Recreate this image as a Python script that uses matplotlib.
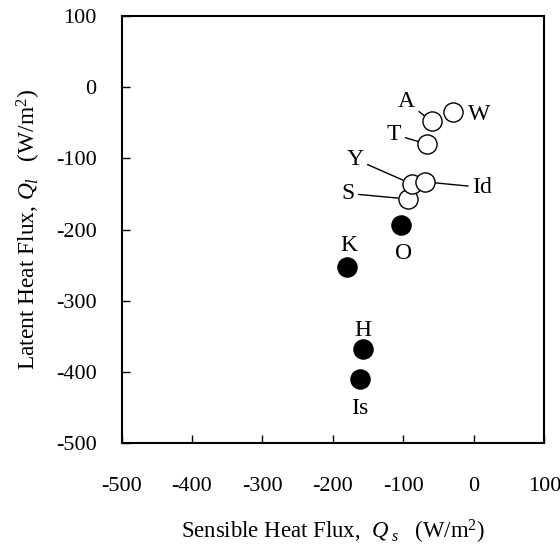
import matplotlib
matplotlib.use("Agg")
import matplotlib.pyplot as plt

plt.rcParams['font.family'] = ['Liberation Serif', 'DejaVu Serif']
plt.rcParams['mathtext.fontset'] = 'custom'
plt.rcParams['mathtext.rm'] = 'Liberation Serif'
plt.rcParams['mathtext.it'] = 'Liberation Serif:italic'
plt.rcParams['axes.unicode_minus'] = False

# site data (W/m2)
names = ['W', 'A', 'T', 'S', 'Y', 'Id', 'O', 'K', 'H', 'Is']
qs = [-30, -60, -66, -94, -88, -69, -103, -180, -157, -162]
ql = [-35, -48, -80, -157, -136, -133, -194, -253, -368, -410]
filled = [False, False, False, False, False, False, True, True, True, True]
# label offsets (points) and whether a leader line is drawn
offs = [(19, -2), (-18, 14), (-24, 7), (-43, 4), (-41, 18), (41, -4),
        (2, -20), (1, 16), (0, 13.5), (0, -21)]
leader = [False, True, True, True, True, True, False, False, False, False]

xticks = [-500, -400, -300, -200, -100, 0, 100]
yticks = [-500, -400, -300, -200, -100, 0, 100]

fig = plt.figure(figsize=(5.6, 5.49), dpi=100)
ax = fig.add_axes([0.217, 0.1925, 0.755, 0.7785])

for i in range(len(names)):
    fc = 'black' if filled[i] else 'white'
    ax.scatter(qs[i], ql[i], s=190, facecolor=fc, edgecolor='black',
               linewidth=1, zorder=3 + i)
    if leader[i]:
        ax.annotate(names[i], (qs[i], ql[i]), xytext=offs[i],
                    textcoords='offset points', ha='center', va='center',
                    fontsize=17,
                    arrowprops=dict(arrowstyle='-', color='black', lw=1,
                                    shrinkA=1, shrinkB=7))
    else:
        ax.annotate(names[i], (qs[i], ql[i]), xytext=offs[i],
                    textcoords='offset points', ha='center', va='center',
                    fontsize=17)

ax.set_xlim(-500, 100)
ax.set_ylim(-500, 100)
ax.set_xticks(xticks)
ax.set_yticks(yticks)
ax.tick_params(direction='in', length=6, width=1, labelsize=16, pad=24,
               top=False, right=False)
ax.tick_params(axis='y', pad=18)
for sp in ax.spines.values():
    sp.set_linewidth(1.5)

ax.set_xlabel('Sensible Heat Flux,  $Q_{\\ s}$$\\ \\ \\ $(W/m$^2$)', fontsize=16.4, labelpad=16)
ax.set_ylabel('Latent Heat Flux, $Q_l$$\\ \\ \\ $(W/m$^2$)', fontsize=16.8, labelpad=9)

fig.savefig('out.png', dpi=100)
